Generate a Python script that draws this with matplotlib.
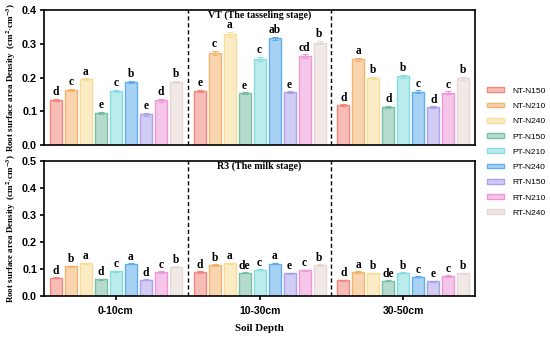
import matplotlib
matplotlib.use("Agg")
import matplotlib.pyplot as plt
from matplotlib.colors import to_rgba
import numpy as np

plt.rcParams["mathtext.fontset"] = "stix"

depths = ["0-10cm", "10-30cm", "30-50cm"]
treatments = ["NT-N150", "NT-N210", "NT-N240", "PT-N150", "PT-N210", "PT-N240",
              "RT-N150", "RT-N210", "RT-N240"]
colors = ["#F2877B", "#F4B36C", "#F8DD98", "#79BFA8", "#86DCDF", "#62AEEC",
          "#ABA2EC", "#EE97D8", "#E6D8D2"]

# VT stage (rows = treatments, cols = depths)
vt_vals = [
    [0.133, 0.160, 0.118],
    [0.163, 0.273, 0.254],
    [0.195, 0.328, 0.199],
    [0.095, 0.153, 0.114],
    [0.160, 0.255, 0.204],
    [0.187, 0.316, 0.158],
    [0.091, 0.156, 0.112],
    [0.132, 0.264, 0.155],
    [0.187, 0.304, 0.198],
]
vt_err = [
    [0.003, 0.004, 0.003],
    [0.003, 0.007, 0.005],
    [0.003, 0.007, 0.004],
    [0.003, 0.003, 0.003],
    [0.003, 0.006, 0.004],
    [0.004, 0.005, 0.004],
    [0.004, 0.003, 0.003],
    [0.004, 0.005, 0.004],
    [0.003, 0.004, 0.004],
]
vt_letters = [
    ["d", "e", "d"], ["c", "c", "a"], ["a", "a", "b"],
    ["e", "e", "d"], ["c", "c", "b"], ["b", "ab", "c"],
    ["e", "e", "d"], ["d", "cd", "c"], ["b", "b", "b"],
]

# R3 stage
r3_vals = [
    [0.067, 0.089, 0.059],
    [0.110, 0.115, 0.089],
    [0.121, 0.122, 0.084],
    [0.062, 0.086, 0.057],
    [0.091, 0.097, 0.086],
    [0.119, 0.120, 0.071],
    [0.060, 0.084, 0.054],
    [0.089, 0.096, 0.074],
    [0.109, 0.114, 0.084],
]
r3_err = [
    [0.002, 0.002, 0.002],
    [0.002, 0.003, 0.002],
    [0.002, 0.002, 0.002],
    [0.002, 0.002, 0.002],
    [0.002, 0.002, 0.002],
    [0.002, 0.003, 0.002],
    [0.002, 0.002, 0.002],
    [0.002, 0.002, 0.002],
    [0.002, 0.003, 0.002],
]
r3_letters = [
    ["d", "d", "d"], ["b", "b", "a"], ["a", "a", "b"],
    ["d", "de", "de"], ["c", "c", "b"], ["a", "a", "c"],
    ["d", "e", "e"], ["c", "c", "c"], ["b", "b", "b"],
]

serif = ["Liberation Serif", "DejaVu Serif"]
sans = ["Liberation Sans", "DejaVu Sans"]

fig = plt.figure(figsize=(5.5, 3.38), dpi=100)
ax1 = fig.add_axes([0.080, 0.571, 0.784, 0.399])
ax2 = fig.add_axes([0.080, 0.1243, 0.784, 0.399])

x = np.arange(len(depths))
step = 0.1043
width = 0.083
offsets = (np.arange(len(treatments)) - 4) * step

ylab = r"Root surface area Density  (cm$^{\mathbf{2}}$$\cdot$cm$^{\mathbf{-3}}$)"

def draw(ax, vals, errs, letters, ymax, yticks, title, lab_off):
    handles = []
    for i, t in enumerate(treatments):
        fc = to_rgba(colors[i], 0.55)
        b = ax.bar(x + offsets[i], vals[i], width, color=fc, edgecolor=colors[i],
                   linewidth=1.0, label=t, zorder=2)
        ax.errorbar(x + offsets[i], vals[i], yerr=errs[i], fmt="none",
                    ecolor=colors[i], elinewidth=0.8, capsize=2.5, capthick=0.8, zorder=3)
        handles.append(b)
        for j in range(len(depths)):
            ax.text(x[j] + offsets[i], vals[i][j] + errs[i][j] + lab_off, letters[i][j],
                    ha="center", va="bottom", fontsize=8.3, fontweight="bold",
                    family=serif)
    for xv in [0.5, 1.5]:
        ax.axvline(xv, color="black", linestyle=(0, (3, 2)), linewidth=1.0, zorder=1)
    ax.set_xlim(-0.5, 2.5)
    ax.set_ylim(0, ymax)
    ax.set_yticks(yticks)
    ax.set_yticklabels([f"{v:.1f}" for v in yticks], fontsize=7.8, fontweight="bold", family=sans)
    for s in ax.spines.values():
        s.set_linewidth(1.2)
    ax.tick_params(axis="y", direction="out", length=3, width=1.2, pad=2)
    ax.text(1.0, ymax * 0.995, title, ha="center", va="top", fontsize=7.2,
            fontweight="bold", family=serif)
    ax.set_ylabel(ylab, fontsize=6.5, fontweight="bold", family=serif, labelpad=3)
    return handles

handles = draw(ax1, vt_vals, vt_err, vt_letters, 0.4, [0.0, 0.1, 0.2, 0.3, 0.4],
               "VT (The tasseling stage)", 0.002)
draw(ax2, r3_vals, r3_err, r3_letters, 0.5, [0.0, 0.1, 0.2, 0.3, 0.4, 0.5],
     "R3 (The milk stage)", 0.002)

ax1.set_xticks([])
ax2.set_xticks(x)
ax2.set_xticklabels(depths, fontsize=7.5, fontweight="bold", family=sans)
ax2.tick_params(axis="x", direction="out", length=3, width=1.2, pad=4)
ax2.set_xlabel("Soil Depth", fontsize=7.8, fontweight="bold", family=serif, labelpad=6)

fig.legend(handles=handles, labels=treatments, loc="center left",
           bbox_to_anchor=(0.886, 0.55), frameon=False, prop={"family": sans, "size": 6},
           handlelength=2.0, handleheight=0.5, labelspacing=0.95, handletextpad=1.0,
           borderaxespad=0, borderpad=0)

fig.savefig("out.png", dpi=100)
